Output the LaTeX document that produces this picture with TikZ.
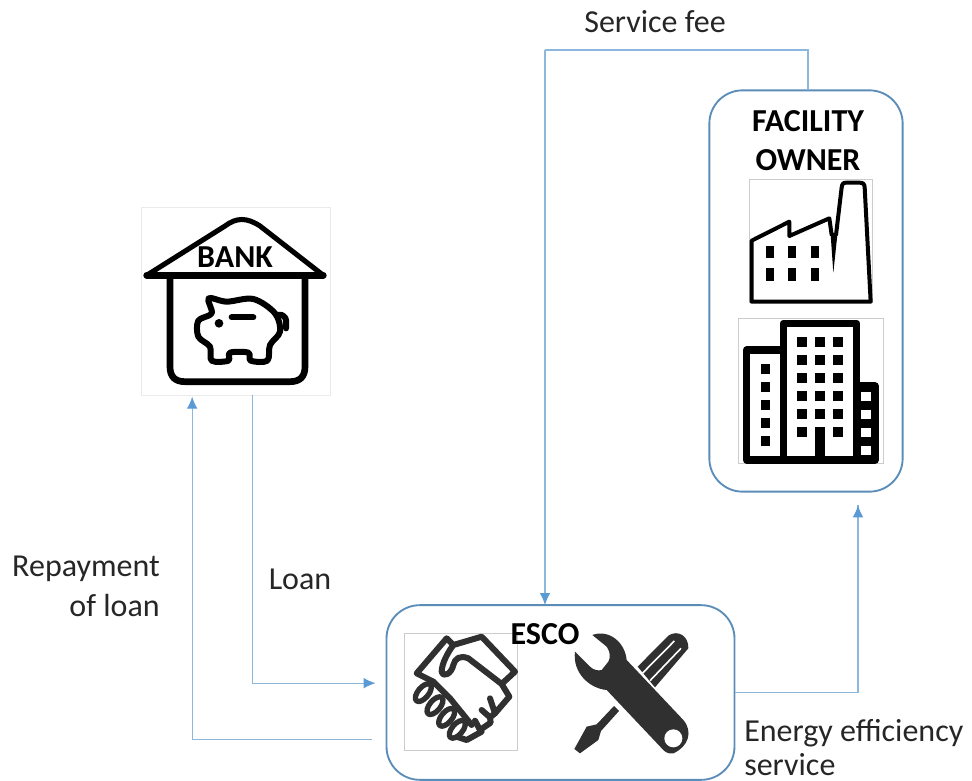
\documentclass[tikz,border=0pt]{standalone}
\usepackage{fontspec}
\setmainfont{Carlito}
\usetikzlibrary{arrows.meta}
\definecolor{boxline}{HTML}{5B8DB8}
\definecolor{flowline}{HTML}{8DB8DE}
\definecolor{flowtip}{HTML}{5B9BD5}
\definecolor{toolgray}{HTML}{303030}
\tikzset{
	panel/.style={rectangle,rounded corners=25pt,draw=boxline,line width=1.4pt,inner sep=0pt},
	frame/.style={rectangle,draw=black!20,line width=0.5pt,inner sep=0pt,fill=white},
	lbl/.style={font=\fontsize{24}{28}\selectfont,text=black!85,inner sep=0pt},
	title/.style={font=\fontsize{24}{28}\selectfont\bfseries,text=black,inner sep=0pt},
	flow/.style={draw=flowline,line width=0.9pt},
	flowarrow/.style={flow,-{Latex[length=9pt,width=8pt,color=flowtip]}},
	icon/.style={draw=black,line width=4.5pt,line join=round,line cap=round},
}
\begin{document}
\begin{tikzpicture}[x=0.75pt,y=-0.75pt]
	\useasboundingbox (0,0) rectangle (972,781);
	% boxes
	\node (owner) at (806,291) [panel,minimum width=145pt,minimum height=301pt] {};
	\node (esco) at (560.5,692.5) [panel,minimum width=261pt,minimum height=131pt] {};
	\node (bank) at (235.5,301) [frame,draw=black!8,minimum width=142pt,minimum height=141pt] {};
	\node (factory) at (811,241) [frame,minimum width=92.5pt,minimum height=92.5pt] {};
	\node (office) at (811,391) [frame,minimum width=109pt,minimum height=109pt] {};
	\node (shake) at (461,692) [frame,minimum width=84.5pt,minimum height=88pt] {};
	% connectors
	\coordinate (feecorner) at (545,50);
	\coordinate (feeend) at (545,605);
	\draw [flow] ([xshift=1.5pt]owner.north) |- (feecorner);
	\draw [flowarrow] (feecorner) -- (feeend);
	\draw [flow] (esco.east) -| ([xshift=39pt,yshift=-9.5pt]owner.south);
	\draw [flowarrow] ([xshift=39pt,yshift=-100pt]owner.south) -- ([xshift=39pt,yshift=-9.5pt]owner.south);
	\draw [flowarrow] ([xshift=13pt]bank.south) |- ([xshift=-7.5pt,yshift=7pt]esco.west |- esco.center);
	\draw [flowarrow] ([xshift=-10pt,yshift=-35pt]esco.west) -| ([xshift=-32.5pt,yshift=-1pt]bank.south);
	% bank icon
	\begin{scope}[shift={(130,200)},x=0.25pt,y=-0.25pt]
		\draw [icon,line width=3.8pt] (50,226) -- (285,78) .. controls (320,52) and (350,52) .. (390,78) -- (580,226);
		\draw [icon,line width=5pt] (50,226) -- (580,226);
		\draw [icon,line width=5pt] (120,228) -- (120,500) .. controls (120,530) and (135,545) .. (165,545) -- (480,545) .. controls (510,545) and (525,530) .. (525,500) -- (525,228);
		\draw [icon] plot [smooth cycle,tension=0.55] coordinates {(205,362) (245,340) (236,295) (290,305) (370,297) (435,340) (450,395) (420,435) (412,482) (362,482) (355,458) (300,458) (295,482) (245,482) (240,440) (205,410)};
		\draw [icon] (440,345) .. controls (470,340) and (470,360) .. (468,385);
		\draw [icon] (305,352) -- (370,352);
		\fill (267,370) circle (13);
	\end{scope}
	% factory icon
	\begin{scope}[shift={(700,80)},x=0.25pt,y=-0.25pt]
		\draw [icon,line width=3pt] (155,665) -- (155,482) -- (268,425) -- (268,468) -- (388,415) -- (395,465) -- (408,465) -- (425,322) .. controls (427,310) and (430,308) .. (440,308) -- (478,308) .. controls (490,308) and (493,312) .. (494,322) -- (512,665) -- cycle;
		\fill (392,465) -- (400,578) -- (412,465) -- cycle;
		\foreach \wx in {198,264,332}
			\foreach \wy in {498,565}
				\fill (\wx,\wy) rectangle ++(24,37);
	\end{scope}
	% office icon
	\begin{scope}[shift={(700,300)},x=0.25pt,y=-0.25pt]
		\draw [icon,line width=5.5pt,fill=black] (470,258) -- (525,258) -- (525,480) -- (470,480) -- cycle;
		\draw [icon,line width=5.5pt] (140,480) -- (140,150) -- (250,150) -- (250,70) -- (470,70) -- (470,480) -- cycle;
		\draw [icon,line width=5.5pt] (250,150) -- (250,480);
		\foreach \wy in {112,166,220,274,328,382} {
			\fill (292,\wy) rectangle ++(28,28);
			\fill (400,\wy) rectangle ++(28,28);
		}
		\foreach \wy in {112,166,220,274,328}
			\fill (346,\wy) rectangle ++(28,28);
		\fill (346,382) rectangle (374,480);
		\foreach \wy in {193,247,301,355,409}
			\fill (182,\wy) rectangle ++(28,28);
		\foreach \wy in {275,330,383,437}
			\fill [white] (482,\wy) rectangle ++(30,27);
	\end{scope}
	% handshake icon
	\begin{scope}[shift={(400,630)},x=0.25pt,y=-0.25pt]
		\draw [icon,draw=toolgray] (100,155) -- (50,130) -- (140,25) -- (160,45) -- (245,20) -- (345,125) -- (305,162) -- (205,85) .. controls (180,75) and (165,85) .. (160,105) .. controls (155,130) and (130,145) .. (125,125) .. controls (125,100) and (145,65) .. (160,45);
		\draw [icon,draw=toolgray] (100,155) -- (150,205) -- (215,285);
		\draw [icon,draw=toolgray] (305,162) -- (328,200) -- (285,250) -- (270,205);
		\draw [icon,draw=toolgray] (285,250) -- (270,262) -- (245,240);
		\draw [icon,draw=toolgray] (270,262) -- (272,278) -- (240,300) -- (225,272);
		\draw [icon,draw=toolgray] (240,300) -- (245,305) -- (200,330) -- (170,320);
		\foreach \fx/\fy in {70/188,105/227,140/262,172/298}
			\draw [icon,line width=4pt,draw=toolgray,fill=white] (\fx,\fy) ellipse [x radius=32,y radius=16,rotate=50];
	\end{scope}
	% tools icon
	\begin{scope}[shift={(565,625)},x=0.25pt,y=-0.25pt]
		\fill [toolgray] (218,125) -- (310,32) .. controls (340,12) and (372,35) .. (370,70) -- (270,187) -- cycle;
		\draw [white,line width=1.2pt] (232,145) -- (328,48);
		\draw [white,line width=1.2pt] (255,167) -- (348,70);
		\fill [toolgray] (147,243) -- (162,258) -- (108,318) -- (100,345) -- (45,385) -- (28,372) -- (65,305) -- (95,298) -- cycle;
		\fill [white] (190,110) -- (280,200) -- (240,240) -- (150,150) -- cycle;
		\fill [toolgray] (82,30) .. controls (130,12) and (180,50) .. (185,105) -- (355,285) .. controls (385,320) and (370,365) .. (325,385) .. controls (310,388) and (300,380) .. (295,375) -- (125,195) .. controls (70,190) and (22,140) .. (30,80) -- (75,125) .. controls (85,135) and (100,138) .. (110,135) -- (130,110) .. controls (138,95) and (135,80) .. (125,65) -- cycle;
		\fill [white] (325,340) circle (27);
	\end{scope}
	% texts
	\node (banktxt) at (235,257) [title] {BANK};
	\node (ownertxt) at (808,121) [title] {FACILITY};
	\node (ownertxtb) at (808,160) [title] {OWNER};
	\node (escotxt) at (545,634) [title] {ESCO};
	\node (feetxt) at (655,22) [lbl] {Service fee};
	\node (repaytxt) at (160,569) [lbl,anchor=east] {Repayment};
	\node (repaytxtb) at (160,606) [lbl,anchor=east] {of loan};
	\node (loantxt) at (300,579) [lbl] {Loan};
	\node (efftxt) at (744,733) [lbl,anchor=west] {Energy efficiency};
	\node (efftxtb) at (744,765) [lbl,anchor=west] {service};
\end{tikzpicture}
\end{document}
